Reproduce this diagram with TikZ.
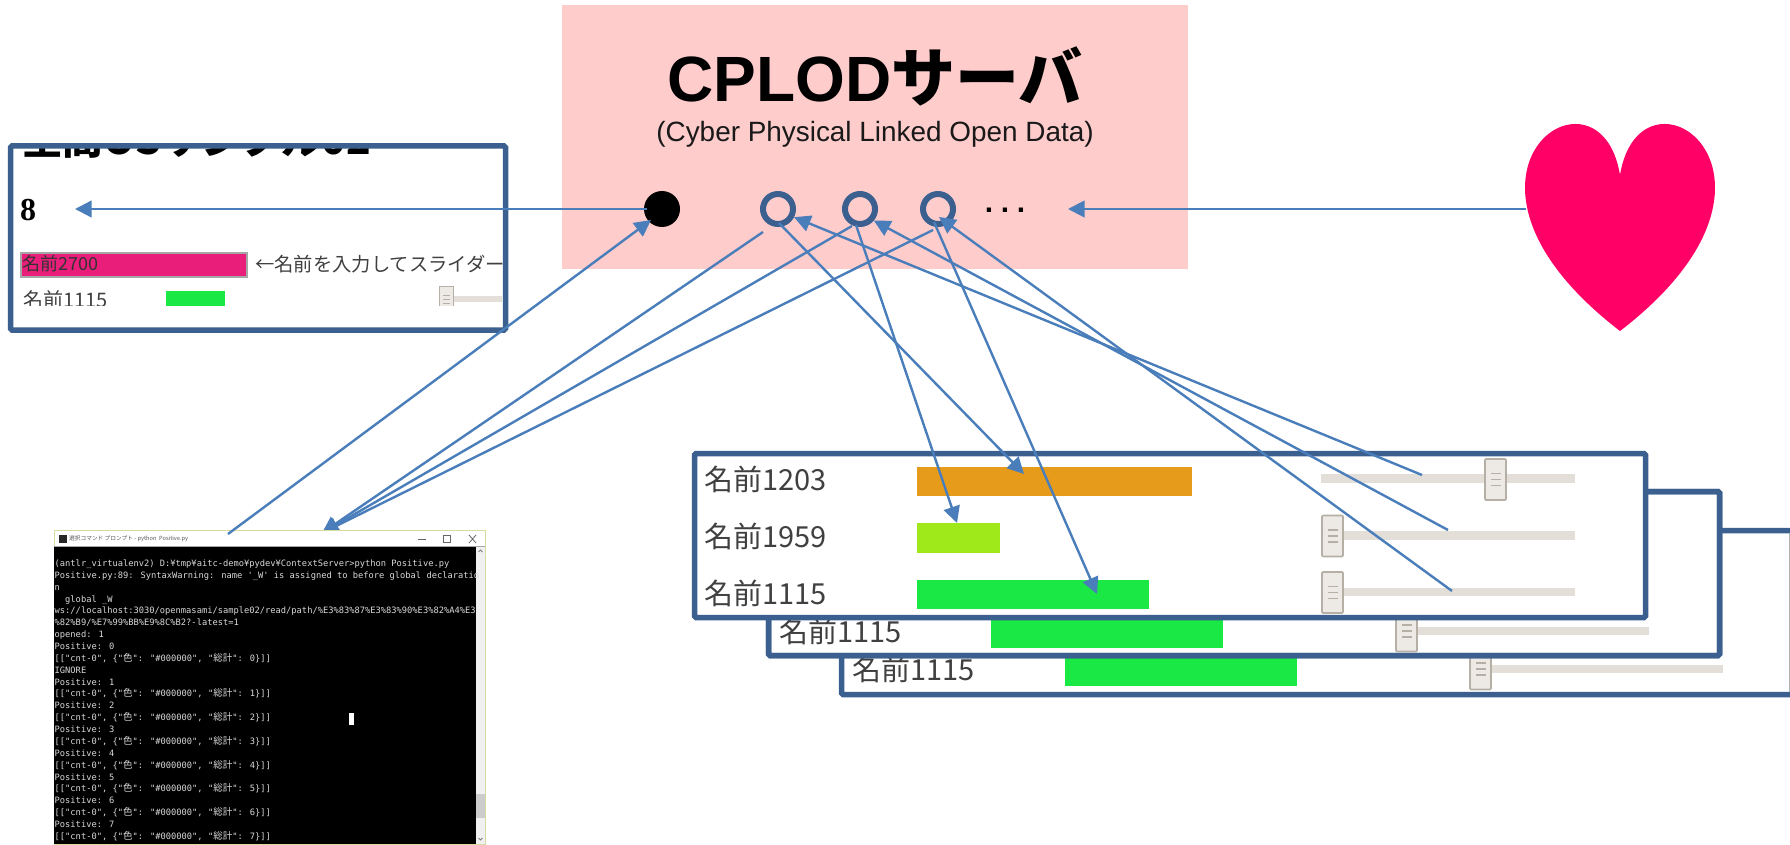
\documentclass[tikz,border=0pt]{standalone}
\usepackage{fontspec}
\usetikzlibrary{arrows.meta}
\setmainfont{Liberation Sans}
\newfontfamily\cjk{Noto Sans CJK JP}
\newfontfamily\serifb{Liberation Serif}
\newfontfamily\tmono{DejaVu Sans Mono}
\definecolor{pinkbg}{HTML}{FFCCCC}
\definecolor{framec}{HTML}{3B5F8E}
\definecolor{connc}{HTML}{4A7EBB}
\definecolor{heartc}{HTML}{FF0066}
\definecolor{orangec}{HTML}{E69B1A}
\definecolor{limec}{HTML}{9FE81A}
\definecolor{greenc}{HTML}{1AE845}
\definecolor{magc}{HTML}{E91E7B}
\definecolor{trackc}{HTML}{E3DED8}
\definecolor{thumbc}{HTML}{EDEAE6}
\definecolor{thumbl}{HTML}{B5AFA6}
\definecolor{labelc}{HTML}{404040}
\newcommand\tc[1]{{\cjk\fontsize{9.5}{11.9}\selectfont #1}}
\newcommand\cntline[1]{[["cnt-0", \{"\tc{色}": "\#000000", "\tc{総計}": #1\}]]}
\newcommand\sliderthumb[2]{% left x, centre y
  \path[fill=thumbc,draw=thumbl,line width=1.6pt,rounded corners=1pt] (#1,#2-20.5) rectangle (#1+21,#2+20.5);
  \draw[thumbl,line width=1.5pt] (#1+5.5,#2-6)--(#1+15.5,#2-6) (#1+5.5,#2)--(#1+15.5,#2) (#1+5.5,#2+6)--(#1+15.5,#2+6);}
\tikzset{
  panelbox/.style={draw=framec,line width=5.5pt,rounded corners=1.5pt},
  panelfill/.style={panelbox,fill=white},
  conn/.style={draw=connc,line width=2.4pt,-{Triangle[length=16.5pt,width=16.5pt]}},
  lbl/.style={inner sep=0pt,anchor=west,text=labelc,font=\cjk\fontsize{29}{32}\selectfont},
  ring/.style={circle,draw=framec,line width=6pt,minimum size=30pt,inner sep=0pt},
  track/.style={fill=trackc},
}
\begin{document}
\begin{tikzpicture}[x=1pt,y=-1pt]
\useasboundingbox (0,0) rectangle (1790,845);
% server box
\fill[pinkbg] (562,5) rectangle (1188,269);
\node[inner sep=0pt,anchor=base,font=\bfseries\fontsize{64}{70}\selectfont] (title) at (875,102) {CPLOD{\cjk サーバ}};
\node[inner sep=0pt,anchor=base,font=\fontsize{27.9}{30}\selectfont,text=black!90] (subtitle) at (875,142) {(Cyber Physical Linked Open Data)};
\node[circle,fill=black,minimum size=36pt,inner sep=0pt] (c0) at (662,209) {};
\node[ring] (c1) at (778,209) {};
\node[ring] (c2) at (860,209) {};
\node[ring] (c3) at (938,209) {};
\node[inner sep=0pt,anchor=base,font=\bfseries\fontsize{30}{30}\selectfont] (dots) at (1005,212) {.\hspace{7.7pt}.\hspace{7.7pt}.};
% heart
\path[fill=heartc] (1620,175) .. controls (1640.7,50) and (1823,175) .. (1620,331) .. controls (1417,175) and (1599.3,50) .. (1620,175) -- cycle;
\coordinate (heartL) at (1526,209);
% left panel
\path[fill=white] (10.5,146) rectangle (505.5,330);
\begin{scope}
\clip (12,148) rectangle (504,305);
\node[inner sep=0pt,anchor=base west,font=\cjk\bfseries\fontsize{40.5}{44}\selectfont] (leftT) at (22,155) {空間OSサンプル02};
\fill[magc] (21,253) rectangle (247,277);
\draw[gray!70,line width=1.2pt] (21,253) rectangle (247,277);
\node[inner sep=0pt,anchor=west,font=\cjk\fontsize{18}{22}\selectfont,text=black!80] (n2700) at (22,264) {名前2700};
\node[inner sep=0pt,anchor=west,font=\cjk\fontsize{19.3}{22}\selectfont,text=labelc] (hint) at (255,264) {←名前を入力してスライダー};
\node[inner sep=0pt,anchor=west,font=\cjk\fontsize{20}{22}\selectfont,text=labelc] (n1115a) at (23,300) {名前1115};
\fill[greenc] (166,291) rectangle (225,306);
\fill[track] (454,296) rectangle (502,302);
\path[fill=thumbc,draw=thumbl,line width=1pt] (439.5,286) rectangle (453.5,312);
\draw[thumbl,line width=1pt] (443,295)--(450,295) (443,299)--(450,299) (443,303)--(450,303);
\end{scope}
\draw[panelbox] (10.5,146) rectangle (505.5,330);
\node[inner sep=0pt,anchor=base west,font=\serifb\bfseries\fontsize{32}{34}\selectfont] (eight) at (20,220) {8};
\coordinate (eightR) at (75,209);
% stacked panels
\draw[panelfill] (841.5,530.5) rectangle (1800,694.5);
\draw[gray!60,line width=1pt] (1789,533) -- (1789,692);
\node[lbl] (r3) at (852,669.5) {名前1115};
\fill[greenc] (1065,657) rectangle (1297,686);
\fill[track] (1469,665) rectangle (1723,673);
\sliderthumb{1470}{669}
\draw[framec,line width=5.5pt] (841.5,694.5) -- (1790,694.5);
\draw[panelfill] (768.5,491.5) rectangle (1719.5,655.5);
\node[lbl] (r2) at (779,631) {名前1115};
\fill[greenc] (991,619) rectangle (1223,648);
\fill[track] (1395,627) rectangle (1649,635);
\sliderthumb{1396}{631}
\draw[panelbox] (768.5,491.5) rectangle (1719.5,655.5);
\draw[panelfill] (694.5,453.5) rectangle (1645.5,617.5);
\node[lbl] (n1) at (704.5,479) {名前1203};
\node[lbl] (n2) at (704.5,536) {名前1959};
\node[lbl] (n3) at (704.5,593) {名前1115};
\fill[orangec] (917,467) rectangle (1192,496);
\fill[limec] (917,523) rectangle (999.5,552.5);
\fill[greenc] (917,580) rectangle (1149,609);
\fill[track] (1321,474) rectangle (1575,483);
\fill[track] (1321,531) rectangle (1575,540);
\fill[track] (1321,588) rectangle (1575,596);
\sliderthumb{1485}{479.5}
\sliderthumb{1322}{536}
\sliderthumb{1322}{592.5}
% connector ends
\coordinate (s1) at (1422,475);
\coordinate (s2) at (1448,530);
\coordinate (s3) at (1452,591);
\coordinate (barO) at (1024,474);
\coordinate (barL) at (957,523);
\coordinate (barG) at (1097,594);
\coordinate (termA) at (322,533);
\coordinate (termB) at (228,534);
\coordinate (c0t) at (651,220);
\coordinate (c1a) at (763,232);
\coordinate (c2a) at (852,226);
\coordinate (c3a) at (933,230);
\coordinate (c1b) at (779,223);
\coordinate (c2b) at (856,225);
\coordinate (c3b) at (934,222);
\coordinate (c3t) at (939,217);
\coordinate (dotsR) at (1068,209);
\coordinate (c0L) at (647,209);
% connectors
\draw[conn] (c0L) -- (eightR);
\draw[conn] (heartL) -- (dotsR);
\draw[conn] (c1a) -- (termA);
\draw[conn] (c2a) -- (termA);
\draw[conn] (c3a) -- (termA);
\draw[conn] (c1b) -- (barO);
\draw[conn] (c2b) -- (barL);
\draw[conn] (c3b) -- (barG);
\draw[conn] (s1) -- (c1.-27);
\draw[conn] (s2) -- (c2.-40);
\draw[conn] (s3) -- (c3t);
% terminal
\path[fill=white,draw={rgb,255:red,214;green,220;blue,160},line width=1pt] (54.5,530.5) rectangle (485.5,844.5);
\fill[black] (54,547) rectangle (476,844);
\draw[gray!70,line width=1pt] (54,546.5) -- (485,546.5);
\fill[black!85] (58.5,535) rectangle (67,543);
\node[inner sep=0pt,anchor=west,font=\cjk\fontsize{5.7}{7}\selectfont,text=black!65] (ttitle) at (69,539) {選択コマンド プロンプト - python\ \ Positive.py};
\draw[black!60,line width=.8pt] (418,539) -- (426,539);
\draw[black!60,line width=.8pt] (443,535) rectangle (450,542);
\draw[black!60,line width=.8pt] (469,535) -- (476,543) (476,535) -- (469,543);
\fill[black!6] (476,547) rectangle (485,844);
\fill[black!20] (476,794) rectangle (485,818);
\draw[black!50,line width=.8pt] (478.5,552) -- (480.5,550) -- (482.5,552);
\draw[black!50,line width=.8pt] (478.5,838) -- (480.5,840) -- (482.5,838);
\node[inner sep=0pt,anchor=north west,align=left,text=black!15,font=\tmono\fontsize{8.74}{11.87}\selectfont] (tlog) at (54.5,559.5) {%
(antlr\_virtualenv2) D:¥tmp¥aitc-demo¥pydev¥ContextServer>python Positive.py\\
Positive.py:89: SyntaxWarning: name '\_W' is assigned to before global declaratio\\
n\\
\ \ global \_W\\
ws://localhost:3030/openmasami/sample02/read/path/\%E3\%83\%87\%E3\%83\%90\%E3\%82\%A4\%E3\\
\%82\%B9/\%E7\%99\%BB\%E9\%8C\%B2?-latest=1\\
opened: 1\\
Positive: 0\\
\cntline{0}\\
IGNORE\\
Positive: 1\\
\cntline{1}\\
Positive: 2\\
\cntline{2}\\
Positive: 3\\
\cntline{3}\\
Positive: 4\\
\cntline{4}\\
Positive: 5\\
\cntline{5}\\
Positive: 6\\
\cntline{6}\\
Positive: 7\\
\cntline{7}};
\fill[white] (349,713) rectangle (354,725);
\draw[conn] (termB) -- (c0t);
\end{tikzpicture}
\end{document}
